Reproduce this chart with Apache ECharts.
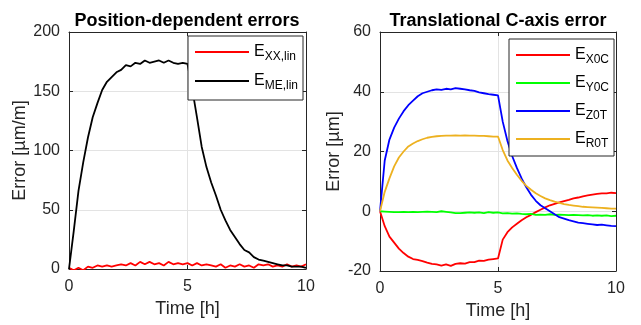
<!DOCTYPE html>
<html>
<head>
<meta charset="utf-8">
<script src="https://cdn.jsdelivr.net/npm/echarts@6/dist/echarts.min.js"></script>
<style>
  html, body { margin: 0; padding: 0; background: #fff; }
  #chart { width: 641px; height: 325px; }
</style>
</head>
<body>
<div id="chart"></div>
<script>
// time axis [h], 0.2 h steps
const TIME = [
  0, 0.2, 0.4, 0.6, 0.8, 1, 1.2, 1.4, 1.6, 1.8,
  2, 2.2, 2.4, 2.6, 2.8, 3, 3.2, 3.4, 3.6, 3.8,
  4, 4.2, 4.4, 4.6, 4.8, 5, 5.2, 5.4, 5.6, 5.8,
  6, 6.2, 6.4, 6.6, 6.8, 7, 7.2, 7.4, 7.6, 7.8,
  8, 8.2, 8.4, 8.6, 8.8, 9, 9.2, 9.4, 9.6, 9.8,
  10
];

// left panel: position-dependent errors [µm/m]
const E_XX_LIN = [
  1, -1, 1, -1, 2, 1, 3, 2, 3, 2,
  3, 4, 3, 5, 3, 6, 4, 6, 4, 5,
  3, 6, 4, 5, 4, 5, 3, 5, 3, 4,
  3, 2, 4, 1, 3, 2, 4, 2, 3, 1,
  4, 3, 4, 2, 3, 2, 4, 2, 3, 2,
  4
];
const E_ME_LIN = [
  0, 32, 66, 90, 111, 128, 140, 151, 158, 162,
  166, 168, 172, 171, 174, 173, 176, 174, 175, 176,
  174, 176, 174, 173, 174, 173, 152, 128, 103, 86,
  73, 62, 50, 41, 33, 27, 21, 16, 14, 10,
  8, 7, 6, 5, 4, 3, 3, 2, 2, 2,
  1
];

// right panel: translational C-axis errors [µm]
const E_X0C = [
  0, -5, -8.5, -10.5, -12.5, -14, -15.2, -16, -16.3, -16.7,
  -17.2, -17.6, -17.8, -18.2, -17.8, -18.3, -17.6, -17.4, -17.5, -17,
  -17, -16.5, -16.6, -16.2, -16, -15.8, -9.5, -7, -5.4, -4.2,
  -3, -2, -1.2, -0.3, 0.5, 1.3, 2, 2.5, 3, 3.4,
  3.8, 4.3, 4.6, 5, 5.3, 5.6, 5.8, 6, 6, 6.2,
  6.1
];
const E_Y0C = [
  0, -0.1, -0.2, -0.3, -0.3, -0.2, -0.3, -0.2, -0.3, -0.2,
  -0.1, -0.2, -0.3, 0, -0.2, -0.4, -0.6, -0.6, -0.5, -0.4,
  -0.5, -0.4, -0.6, -0.3, -0.5, -0.4, -0.7, -0.6, -0.8, -0.7,
  -0.9, -1, -0.9, -1.2, -1.1, -1.2, -1, -1.2, -1.1, -1.2,
  -1.3, -1.2, -1.3, -1.4, -1.3, -1.5, -1.4, -1.5, -1.4, -1.6,
  -1.5
];
const E_Z0T = [
  0, 17, 24, 28, 31, 33.5, 35.5, 37, 38.5, 39.5,
  40, 40.5, 40.8, 40.6, 41, 40.8, 41.2, 41, 40.8, 40.5,
  40.3, 39.8, 39.5, 39.2, 39, 38.8, 30, 23.5, 18.5, 14.5,
  11, 8, 5.5, 3.5, 2, 1, 0, -1, -2, -2.5,
  -3, -3.4, -3.8, -4, -4.2, -4.4, -4.6, -4.5, -4.7, -4.9,
  -5
];
const E_R0T = [
  0, 6.5, 11, 15, 18, 20, 21.7, 22.7, 23.5, 24.1,
  24.6, 24.9, 25.1, 25.2, 25.3, 25.3, 25.4, 25.3, 25.4, 25.3,
  25.3, 25.2, 25.2, 25.1, 25, 25, 20.5, 17, 14.5, 12.2,
  10.2, 8.5, 7.2, 6, 5.1, 4.3, 3.7, 3.2, 2.8, 2.4,
  2.1, 1.9, 1.7, 1.5, 1.4, 1.3, 1.2, 1.1, 1, 0.9,
  0.9
];

const TITLES = ['Position-dependent errors', 'Translational C-axis error'];
const Y_NAMES = ['Error [µm/m]', 'Error [µm]'];
const X_NAME = 'Time [h]';

// legend labels: subscript text + series id
const LEFT_KEYS = [['XX,lin', 'E_XX_lin'], ['ME,lin', 'E_ME_lin']];
const RIGHT_KEYS = [['X0C', 'E_X0C'], ['Y0C', 'E_Y0C'], ['Z0T', 'E_Z0T'], ['R0T', 'E_R0T']];

/* ---------- helpers ---------- */

const FONT = 'Liberation Sans, Arial, sans-serif';
const INK = '#262626';
const AXIS_LINE = { show: true, onZero: false, lineStyle: { color: INK, width: 1 } };
const TICK = { show: true, inside: true, length: 4, lineStyle: { color: INK } };
const SPLIT = { show: true, lineStyle: { color: '#e3e3e3', width: 1 } };
const LABEL = { color: INK, fontSize: 16, fontFamily: FONT };
const NAME_STYLE = { color: INK, fontSize: 18, fontFamily: FONT };

function pairs(ys) {
  return TIME.map((t, i) => [t, ys[i]]);
}

function line(name, data, color, xi, yi) {
  return {
    name,
    type: 'line',
    xAxisIndex: xi,
    yAxisIndex: yi,
    data: pairs(data),
    symbol: 'none',
    lineStyle: { color, width: 1.8 },
    itemStyle: { color },
    z: 3,
  };
}

function xAxes(gi, nameGap) {
  return [
    {
      gridIndex: gi, type: 'value', min: 0, max: 10, interval: 5,
      name: X_NAME, nameLocation: 'middle', nameGap, nameTextStyle: NAME_STYLE,
      axisLine: AXIS_LINE, axisTick: TICK, splitLine: SPLIT,
      axisLabel: { ...LABEL, margin: 10 },
    },
    {
      gridIndex: gi, type: 'value', min: 0, max: 10, interval: 5, position: 'top',
      axisLine: AXIS_LINE, axisTick: TICK, splitLine: { show: false },
      axisLabel: { show: false },
    },
  ];
}

function yAxes(gi, min, max, interval, name) {
  return [
    {
      gridIndex: gi, type: 'value', min, max, interval,
      name, nameLocation: 'middle', nameGap: 37, nameTextStyle: NAME_STYLE,
      axisLine: AXIS_LINE, axisTick: TICK, splitLine: SPLIT,
      axisLabel: { ...LABEL, margin: 9 },
    },
    {
      gridIndex: gi, type: 'value', min, max, interval, position: 'right',
      axisLine: AXIS_LINE, axisTick: TICK, splitLine: { show: false },
      axisLabel: { show: false },
    },
  ];
}

function legend(keys, left, top, gap, padding) {
  const sub = {};
  keys.forEach(([s, id]) => { sub[id] = s; });
  return {
    orient: 'vertical',
    left, top,
    data: keys.map((k) => k[1]),
    backgroundColor: '#fff',
    borderColor: INK,
    borderWidth: 1,
    padding,
    itemWidth: 54,
    itemHeight: 14,
    itemGap: gap,
    itemStyle: { opacity: 0 },
    formatter: (n) => '{e|E}{s|' + sub[n] + '}',
    textStyle: {
      rich: {
        e: { fontSize: 16, fontFamily: FONT, color: '#000', lineHeight: 20, verticalAlign: 'middle' },
        s: { fontSize: 12, fontFamily: FONT, color: '#000', lineHeight: 20, padding: [10, 0, 0, 0], verticalAlign: 'middle' },
      },
    },
  };
}

/* ---------- chart ---------- */

const chart = echarts.init(document.getElementById('chart'), null, { renderer: 'canvas' });

chart.setOption({
  animation: false,
  title: [
    { text: TITLES[0], left: 182, top: 7, textAlign: 'center',
      textStyle: { fontSize: 18, fontWeight: 'bold', color: '#000', fontFamily: FONT } },
    { text: TITLES[1], left: 493, top: 7, textAlign: 'center',
      textStyle: { fontSize: 18, fontWeight: 'bold', color: '#000', fontFamily: FONT } },
  ],
  grid: [
    { left: 69, top: 32, width: 237, height: 237 },
    { left: 380, top: 32, width: 236, height: 239 },
  ],
  xAxis: [...xAxes(0, 22), ...xAxes(1, 20)],
  yAxis: [...yAxes(0, 0, 200, 50, Y_NAMES[0]), ...yAxes(1, -20, 60, 20, Y_NAMES[1])],
  legend: [
    legend(LEFT_KEYS, 188, 36, 7, [5, 5, 8, 6]),
    legend(RIGHT_KEYS, 509, 39, 6, [5, 5, 6, 6]),
  ],
  series: [
    line('E_XX_lin', E_XX_LIN, '#ff0000', 0, 0),
    line('E_ME_lin', E_ME_LIN, '#000000', 0, 0),
    line('E_X0C', E_X0C, '#ff0000', 2, 2),
    line('E_Y0C', E_Y0C, '#00ff00', 2, 2),
    line('E_Z0T', E_Z0T, '#0000ff', 2, 2),
    line('E_R0T', E_R0T, '#EDB120', 2, 2),
  ],
});
</script>
</body>
</html>
